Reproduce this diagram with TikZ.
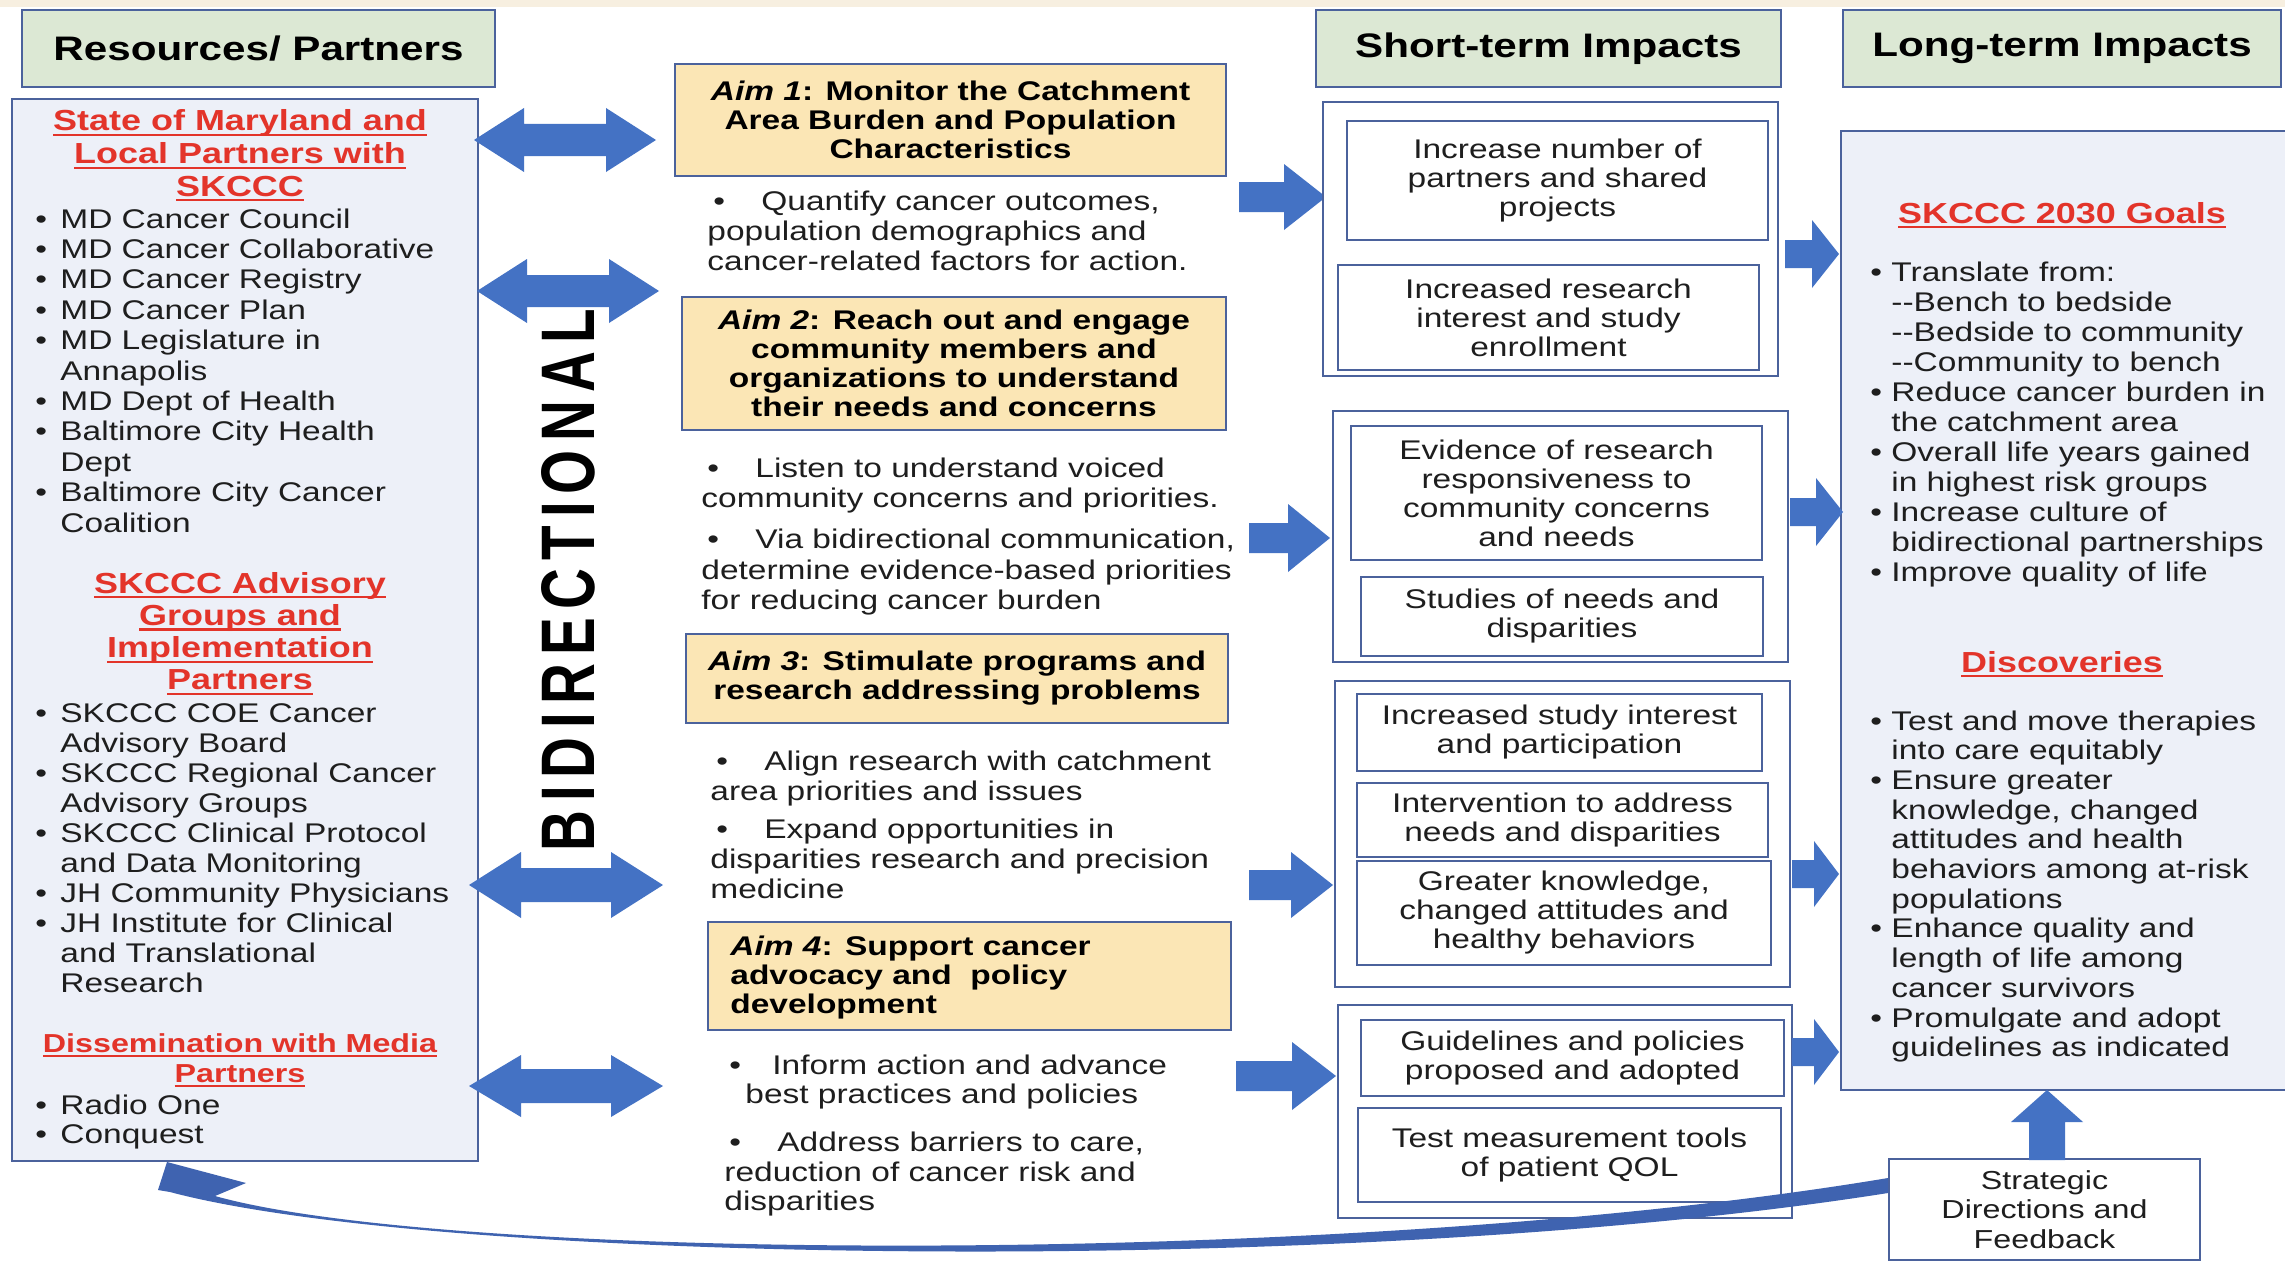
\documentclass[tikz,border=0pt]{standalone}
\usepackage{fontspec}
\setmainfont[FakeStretch=1.24]{Liberation Sans}
\usepackage{graphicx}
\usetikzlibrary{arrows.meta}
\definecolor{hdrgreen}{HTML}{DCE8D4}
\definecolor{bordblue}{HTML}{4B629C}
\definecolor{aimfill}{HTML}{FBE6B5}
\definecolor{panel}{HTML}{EDF0F8}
\definecolor{arrblue}{HTML}{4472C4}
\definecolor{curveblue}{HTML}{3F63B0}
\definecolor{redhead}{HTML}{E3342A}
\definecolor{beige}{HTML}{F7EFE0}
\definecolor{txt}{HTML}{1E1E1E}
\newcommand\mybox[7]{%
 \pgfmathsetmacro\mbcx{(#2+#4)/2}%
 \pgfmathsetmacro\mbcy{(#3+#5)/2}%
 \pgfmathsetmacro\mbw{(#4-#2)*0.5}%
 \pgfmathsetmacro\mbh{(#5-#3)*0.5}%
 \node[#6, minimum width=\mbw pt, minimum height=\mbh pt] (#1) at (\mbcx,\mbcy) {#7};}
\newcommand\rarr[6]{% x1,x2,yc,shaft half,head half,head length
 \fill[arrblue] (#1,{#3-#4}) -- ({#2-#6},{#3-#4}) -- ({#2-#6},{#3-#5}) -- (#2,#3) -- ({#2-#6},{#3+#5}) -- ({#2-#6},{#3+#4}) -- (#1,{#3+#4}) -- cycle;}
\newcommand\darr[6]{%
 \fill[arrblue] (#1,#3) -- ({#1+#6},{#3-#5}) -- ({#1+#6},{#3-#4}) -- ({#2-#6},{#3-#4}) -- ({#2-#6},{#3-#5}) -- (#2,#3) -- ({#2-#6},{#3+#5}) -- ({#2-#6},{#3+#4}) -- ({#1+#6},{#3+#4}) -- ({#1+#6},{#3+#5}) -- cycle;}
\newcommand\txtl[1]{\begin{tabular}[t]{@{}l@{}}#1\end{tabular}}
\newcommand\txtc[1]{\begin{tabular}[t]{@{}c@{}}#1\end{tabular}}
\newcommand\bulit[1][12.5pt]{\makebox[#1][l]{\textbullet}}
\newcommand\bulin[1][12.5pt]{\hspace*{#1}}
\newcommand\redul[1]{\setbox0=\hbox{#1}\rlap{\color{redhead}\rule[-2.6pt]{\wd0}{1.1pt}}\box0}
\tikzset{
 hdr/.style={draw=bordblue, line width=1pt, fill=hdrgreen, text=black, font=\fontsize{17}{20}\selectfont\bfseries},
 panelbox/.style={draw=bordblue, line width=1pt, fill=panel},
 aimbox/.style={draw=bordblue, line width=1pt, fill=aimfill, align=center, text=black, inner sep=1pt, font=\fontsize{13.5}{14.5}\selectfont\bfseries},
 grp/.style={draw=bordblue, line width=1pt, fill=white},
 sbox/.style={draw=bordblue, line width=1pt, fill=white, align=center, inner sep=1pt, text=txt, font=\fontsize{13.5}{14.5}\selectfont},
 tx/.style={inner sep=0pt, text=txt},
 rhead/.style={inner sep=0pt, text=redhead, anchor=base},
}
\begin{document}
\begin{tikzpicture}[x=0.5pt,y=-0.5pt]
\useasboundingbox (0,0) rectangle (2285,1263);
\fill[white] (0,0) rectangle (2285,1263);
\fill[beige] (0,0) rectangle (2285,7);

% headers
\mybox{hRes}{22}{10}{495}{87}{hdr}{Resources/ Partners}
\mybox{hShort}{1316}{10}{1781}{87}{hdr}{Short-term Impacts}
\mybox{hLong}{1843}{10}{2281}{87}{hdr}{Long-term Impacts}

% left panel
\mybox{lbox}{12}{99}{478}{1161}{panelbox}{}
\node[rhead, font=\fontsize{14.5}{16.25}\selectfont\bfseries] (lh1) at (240,131)
 {\txtc{\redul{State of Maryland and}\\\redul{Local Partners with}\\\redul{SKCCC}}};
\node[tx, anchor=base west, font=\fontsize{13.5}{15.2}\selectfont] (lb1) at (35,228) {\txtl{%
\bulit MD Cancer Council\\
\bulit MD Cancer Collaborative\\
\bulit MD Cancer Registry\\
\bulit MD Cancer Plan\\
\bulit MD Legislature in\\
\bulin Annapolis\\
\bulit MD Dept of Health\\
\bulit Baltimore City Health\\
\bulin Dept\\
\bulit Baltimore City Cancer\\
\bulin Coalition}};
\node[rhead, font=\fontsize{14.5}{16.15}\selectfont\bfseries] (lh2) at (240,593)
 {\txtc{\redul{SKCCC Advisory}\\\redul{Groups and}\\\redul{Implementation}\\\redul{Partners}}};
\node[tx, anchor=base west, font=\fontsize{13.5}{15.05}\selectfont] (lb2) at (35,722) {\txtl{%
\bulit SKCCC COE Cancer\\
\bulin Advisory Board\\
\bulit SKCCC Regional Cancer\\
\bulin Advisory Groups\\
\bulit SKCCC Clinical Protocol\\
\bulin and Data Monitoring\\
\bulit JH Community Physicians\\
\bulit JH Institute for Clinical\\
\bulin and Translational\\
\bulin Research}};
\node[rhead, font=\fontsize{13}{15}\selectfont\bfseries] (lh3) at (240,1052)
 {\txtc{\redul{Dissemination with Media}\\\redul{Partners}}};
\node[tx, anchor=base west, font=\fontsize{13.5}{14.5}\selectfont] (lb3) at (35,1114) {\txtl{%
\bulit Radio One\\
\bulit Conquest}};

% bidirectional label
\node[rotate=90, inner sep=0pt] (bidir) at (568,580)
 {\resizebox{271pt}{26.5pt}{\bfseries\addfontfeature{LetterSpace=18}BIDIRECTIONAL}};

% double arrows
\darr{474}{656}{140}{16}{32}{50}
\darr{477}{659}{291}{16}{32}{50}
\darr{469}{663}{885}{17}{33}{52}
\darr{469}{663}{1086}{17}{31}{52}

% aims
\mybox{aim1}{675}{64}{1226}{176}{aimbox}{\textit{Aim 1}: Monitor the Catchment\\Area Burden and Population\\Characteristics}
\mybox{aim2}{682}{297}{1226}{430}{aimbox}{\textit{Aim 2}: Reach out and engage\\community members and\\organizations to understand\\their needs and concerns}
\mybox{aim3}{686}{634}{1228}{723}{aimbox}{\textit{Aim 3}: Stimulate programs and\\research addressing problems}
\mybox{aim4}{708}{922}{1231}{1030}{aimbox}{}
\node[tx, anchor=base west, text=black, font=\fontsize{13.5}{14.5}\selectfont\bfseries] (aim4t) at (730,955)
 {\txtl{\textit{Aim 4}: Support cancer\\advocacy and\ \ policy\\development}};

\node[tx, anchor=base west, font=\fontsize{13.5}{15}\selectfont] (m1) at (707,210) {\txtl{%
\hspace*{3pt}\makebox[24pt][l]{\textbullet}Quantify cancer outcomes,\\
population demographics and\\
cancer-related factors for action.}};
\node[tx, anchor=base west, font=\fontsize{13.5}{15.25}\selectfont] (m2) at (701,477) {\txtl{%
\hspace*{3pt}\makebox[24pt][l]{\textbullet}Listen to understand voiced\\
community concerns and priorities.\\[5.25pt]
\hspace*{3pt}\makebox[24pt][l]{\textbullet}Via bidirectional communication,\\
determine evidence-based priorities\\
for reducing cancer burden}};
\node[tx, anchor=base west, font=\fontsize{13.5}{15}\selectfont] (m3) at (710,770) {\txtl{%
\hspace*{3pt}\makebox[24pt][l]{\textbullet}Align research with catchment\\
area priorities and issues\\[4pt]
\hspace*{3pt}\makebox[24pt][l]{\textbullet}Expand opportunities in\\
disparities research and precision\\
medicine}};
\node[tx, anchor=base west, font=\fontsize{13.5}{14.75}\selectfont] (m4) at (724,1074) {\txtl{%
\hspace*{2.5pt}\makebox[21.5pt][l]{\textbullet}Inform action and advance\\
\hspace*{10.5pt}best practices and policies\\[9.25pt]
\hspace*{2.5pt}\makebox[24pt][l]{\textbullet}Address barriers to care,\\
reduction of cancer risk and\\
disparities}};

% arrows to short-term
\rarr{1239}{1326}{197}{15}{33}{42}
\rarr{1249}{1330}{538}{15}{34}{42}
\rarr{1249}{1333}{885}{15}{33}{42}
\rarr{1236}{1336}{1076}{15}{34}{44}

% short-term groups
\mybox{g1}{1323}{102}{1778}{376}{grp}{}
\mybox{s1a}{1347}{121}{1768}{240}{sbox}{Increase number of\\partners and shared\\projects}
\mybox{s1b}{1338}{265}{1759}{370}{sbox}{Increased research\\interest and study\\enrollment}
\mybox{g2}{1333}{411}{1788}{662}{grp}{}
\mybox{s2a}{1351}{426}{1762}{560}{sbox}{Evidence of research\\responsiveness to\\community concerns\\and needs}
\mybox{s2b}{1361}{577}{1763}{656}{sbox}{Studies of needs and\\disparities}
\mybox{g3}{1335}{681}{1790}{987}{grp}{}
\mybox{s3a}{1357}{694}{1762}{771}{sbox}{Increased study interest\\and participation}
\mybox{s3b}{1357}{783}{1768}{857}{sbox}{Intervention to address\\needs and disparities}
\mybox{s3c}{1357}{861}{1771}{965}{sbox}{Greater knowledge,\\changed attitudes and\\healthy behaviors}
\mybox{g4}{1338}{1005}{1792}{1218}{grp}{}
\mybox{s4a}{1361}{1020}{1784}{1096}{sbox}{Guidelines and policies\\proposed and adopted}
\mybox{s4b}{1358}{1108}{1781}{1202}{sbox}{Test measurement tools\\of patient QOL}

% long-term panel
\mybox{ltbox}{1841}{131}{2292}{1090}{panelbox}{}
\rarr{1785}{1839}{254}{14}{34}{27}
\rarr{1790}{1843}{512}{14}{34}{27}
\rarr{1792}{1839}{874}{14}{33}{25}
\rarr{1792}{1839}{1052}{14}{33}{25}

\node[rhead, font=\fontsize{14.5}{16}\selectfont\bfseries] (lg1) at (2062,223) {\redul{SKCCC 2030 Goals}};
\node[tx, anchor=base west, font=\fontsize{13.5}{15}\selectfont] (lgb1) at (1870,281) {\txtl{%
\bulit[10.5pt]Translate from:\\
\bulin[10.5pt]-{}-Bench to bedside\\
\bulin[10.5pt]-{}-Bedside to community\\
\bulin[10.5pt]-{}-Community to bench\\
\bulit[10.5pt]Reduce cancer burden in\\
\bulin[10.5pt]the catchment area\\
\bulit[10.5pt]Overall life years gained\\
\bulin[10.5pt]in highest risk groups\\
\bulit[10.5pt]Increase culture of\\
\bulin[10.5pt]bidirectional partnerships\\
\bulit[10.5pt]Improve quality of life}};
\node[rhead, font=\fontsize{14.5}{16}\selectfont\bfseries] (lg2) at (2062,672) {\redul{Discoveries}};
\node[tx, anchor=base west, font=\fontsize{13.5}{14.85}\selectfont] (lgb2) at (1870,730) {\txtl{%
\bulit[10.5pt]Test and move therapies\\
\bulin[10.5pt]into care equitably\\
\bulit[10.5pt]Ensure greater\\
\bulin[10.5pt]knowledge, changed\\
\bulin[10.5pt]attitudes and health\\
\bulin[10.5pt]behaviors among at-risk\\
\bulin[10.5pt]populations\\
\bulit[10.5pt]Enhance quality and\\
\bulin[10.5pt]length of life among\\
\bulin[10.5pt]cancer survivors\\
\bulit[10.5pt]Promulgate and adopt\\
\bulin[10.5pt]guidelines as indicated}};

% strategic directions
\mybox{strat}{1889}{1159}{2200}{1260}{sbox, font=\fontsize{13}{14.75}\selectfont}{Strategic\\Directions and\\Feedback}
\fill[arrblue] (2029,1160) -- (2029,1122) -- (2011,1122) -- (2047,1090) -- (2083,1122) -- (2065,1122) -- (2065,1160) -- cycle;

% feedback curve: tapered ribbon with arrowhead, from strat to lbox
\fill[curveblue] ([xshift=78pt]lbox.south west) -- (158,1190) -- (170,1192)
 .. controls (440,1264) and (1350,1278) .. ([yshift=8.25pt]strat.west)
 -- ([yshift=15.75pt]strat.west)
 .. controls (1350,1268) and (450,1262) .. (215,1196)
 -- (246,1183) -- cycle;
\end{tikzpicture}
\end{document}
